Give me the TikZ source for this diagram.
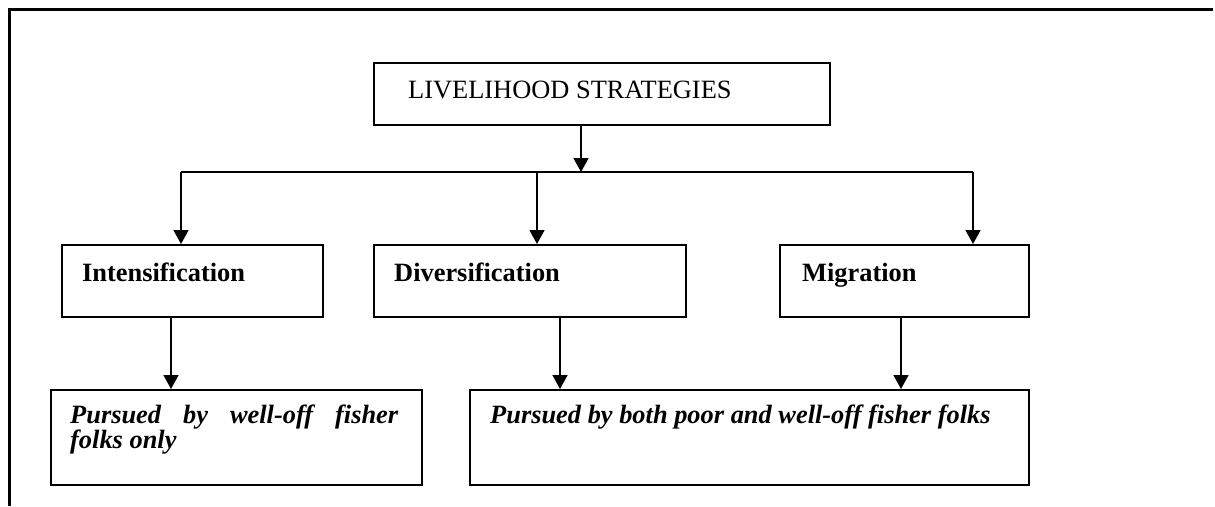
\documentclass[tikz,border=0pt]{standalone}
\usepackage{fontspec}
\setmainfont{Liberation Serif}
\usetikzlibrary{arrows.meta}
\begin{document}
\begin{tikzpicture}[x=1pt,y=-1pt,
  box/.style={draw,line width=1.7pt,inner sep=0pt,anchor=north west},
  txt/.style={anchor=base west,inner sep=0pt,font=\fontsize{26.4}{25}\selectfont},
  conn/.style={line width=1.6pt},
  arr/.style={line width=1.6pt,-{Triangle[width=15pt,length=14pt]}}]
\useasboundingbox (0,0) rectangle (1215,506);
% outer frame
\coordinate (fl) at (9,506);
\coordinate (ftl) at (9,9);
\coordinate (ftr) at (1213,9);
\draw[line width=3pt] (fl) -- (ftl) -- (ftr);
% boxes
\node[box,minimum width=456pt,minimum height=62pt] (top) at (373,62) {};
\node[box,minimum width=261pt,minimum height=72pt] (int) at (61,244) {};
\node[box,minimum width=312pt,minimum height=72pt] (div) at (373,244) {};
\node[box,minimum width=249pt,minimum height=72pt] (mig) at (779,244) {};
\node[box,minimum width=371pt,minimum height=95pt] (bl) at (50,389) {};
\node[box,minimum width=559pt,minimum height=95pt] (br) at (469,389) {};
% texts
\node[txt] (ttop) at (408,98) {LIVELIHOOD STRATEGIES};
\node[txt,font=\fontsize{26.4}{25}\selectfont\bfseries] (tint) at (82,281) {Intensification};
\node[txt,font=\fontsize{26.4}{25}\selectfont\bfseries] (tdiv) at (394,281) {Diversification};
\node[txt,font=\fontsize{26.4}{25}\selectfont\bfseries] (tmig) at (802,281) {Migration};
\node[txt,font=\fontsize{26.4}{25}\selectfont\bfseries\itshape] (tbl1) at (70,423) {\makebox[328pt][s]{Pursued by well-off fisher}};
\node[txt,font=\fontsize{26.4}{25}\selectfont\bfseries\itshape] (tbl2) at (70,448) {folks only};
\node[txt,font=\fontsize{26.4}{25}\selectfont\bfseries\itshape] (tbr) at (490,423) {Pursued by both poor and well-off fisher folks};
% connectors
\coordinate (jn) at (581,172);
\coordinate (hl) at (181,172);
\coordinate (hm) at (537,172);
\coordinate (hr) at (973,172);
\coordinate (ai) at (171,0);
\coordinate (ad) at (560,0);
\coordinate (am) at (901,0);
\draw[arr] (top.south -| jn) -- (jn);
\draw[conn] (hl) -- (hr);
\draw[arr] (hl) -- (hl |- int.north);
\draw[arr] (hm) -- (hm |- div.north);
\draw[arr] (hr) -- (hr |- mig.north);
\draw[arr] (int.south -| ai) -- (ai |- bl.north);
\draw[arr] (div.south -| ad) -- (ad |- br.north);
\draw[arr] (mig.south -| am) -- (am |- br.north);
\end{tikzpicture}
\end{document}
